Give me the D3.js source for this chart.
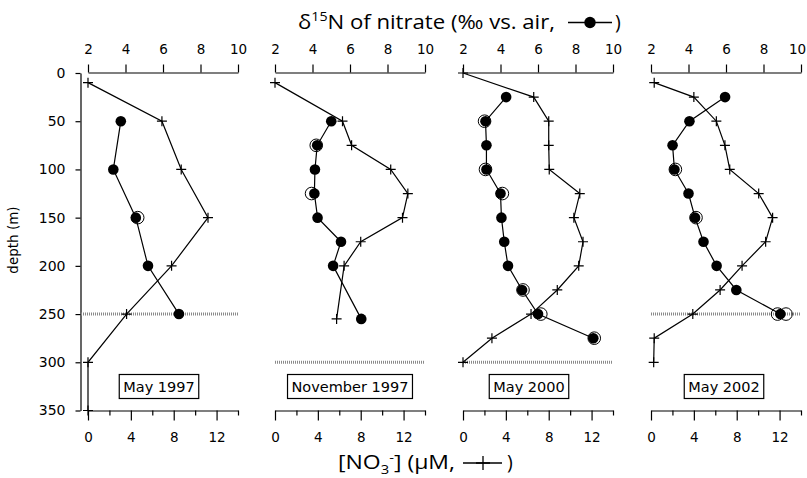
<!DOCTYPE html>
<html>
<head>
<meta charset="utf-8">
<script src="https://cdn.jsdelivr.net/npm/d3@7"></script>
<style>
    body { margin: 0; background: #fff; }
</style>
</head>
<body>
<div id="chart"></div>
<script>
// one entry per panel
const panelNames = ["May 1997", "November 1997", "May 2000", "May 2002"];

// [NO3-] profiles (uM)
const no3Depth = [
    [10, 50, 100, 150, 200, 250, 300, 350],
    [10, 50, 75, 100, 125, 150, 175, 200, 255],
    [0, 25, 50, 75, 100, 125, 150, 175, 200, 225, 250, 275, 300],
    [10, 25, 50, 75, 100, 125, 150, 175, 200, 225, 250, 275, 300]
];
const no3Conc = [
    [0, 6.9, 8.7, 11.2, 7.8, 3.6, 0, 0],
    [0, 6.3, 7.15, 10.8, 12.4, 11.9, 8.0, 6.45, 5.75],
    [0, 6.6, 8.0, 8.0, 8.05, 10.9, 10.35, 11.2, 10.8, 8.8, 6.35, 2.7, 0],
    [0.3, 4.0, 6.1, 6.9, 7.35, 10.05, 11.35, 10.7, 8.5, 6.45, 3.9, 0.3, 0.25]
];

// d15N of nitrate (permil vs. air), mean values
const d15nDepth = [
    [50, 100, 150, 200, 250],
    [50, 75, 100, 125, 150, 175, 200, 255],
    [25, 50, 75, 100, 125, 150, 175, 200, 225, 250, 275],
    [25, 50, 75, 100, 125, 150, 175, 200, 225, 250]
];
const d15nValue = [
    [3.75, 3.35, 4.55, 5.2, 6.85],
    [5.0, 4.25, 4.13, 4.1, 4.27, 5.52, 5.1, 6.6],
    [4.3, 3.2, 3.25, 3.25, 4.0, 4.05, 4.2, 4.4, 5.15, 6.0, 8.95],
    [5.95, 4.05, 3.15, 3.25, 4.0, 4.35, 4.8, 5.5, 6.55, 8.9]
];

// replicate measurements (open circles)
const repDepth = [
    [150],
    [75, 125],
    [50, 100, 125, 225, 250, 275],
    [100, 150, 250, 250]
];
const repValue = [
    [4.65],
    [4.2, 3.95],
    [3.15, 3.2, 4.1, 5.2, 6.15, 9.0],
    [3.3, 4.4, 8.75, 9.2]
];

// dotted reference depth in each panel (m)
const dottedDepth = [250, 300, 300, 250];

const depthTicks = [0, 50, 100, 150, 200, 250, 300, 350];
const d15nTicks = [2, 4, 6, 8, 10];
const no3Ticks = [0, 2, 4, 6, 8, 10, 12, 14];
const no3Labels = [0, 4, 8, 12];

const w = 807;
const h = 478;
const panelLeft = [88, 275, 463, 651];
const panelWidth = 150;
const boxCenter = [159, 350, 529, 724];
const tickFont = "DejaVu Sans";
const titleFont = "Open Sans";

const svg = d3.select("#chart")
    .append("svg")
    .attr("width", w)
    .attr("height", h);

const y = d3.scaleLinear()
    .domain([0, 350])
    .range([73, 410.5]);

// depth axis
const yAxis = svg.append("g")
    .attr("transform", "translate(80.5,0)")
    .call(d3.axisLeft(y).tickValues(depthTicks).tickSize(5).tickPadding(10).tickSizeOuter(0));
yAxis.selectAll("text").attr("font-family", tickFont).attr("font-size", "14px").attr("fill", "#000");
yAxis.selectAll("line, path").attr("stroke", "#000").attr("stroke-width", 1.2);

svg.append("text")
    .attr("transform", "translate(18,240) rotate(-90)")
    .attr("text-anchor", "middle")
    .attr("font-family", tickFont)
    .attr("font-size", "13.5px")
    .text("depth (m)");

const plusPath = s => `M${-s},0H${s}M0,${-s}V${s}`;

panelNames.forEach((name, p) => {
    const x0 = panelLeft[p];
    const xTop = d3.scaleLinear().domain([2, 10]).range([x0, x0 + panelWidth]);
    const xBot = d3.scaleLinear().domain([0, 14]).range([x0, x0 + panelWidth]);

    const g = svg.append("g");

    // top axis (d15N)
    const top = g.append("g")
        .attr("transform", "translate(0,72.5)")
        .call(d3.axisTop(xTop).tickValues(d15nTicks).tickSize(8).tickPadding(11).tickSizeOuter(0));
    top.selectAll("text").attr("font-family", tickFont).attr("font-size", "13.5px").attr("fill", "#000");
    top.selectAll("line, path").attr("stroke", "#000").attr("stroke-width", 1.2);
    // keep the last label inside the page
    if (p === panelNames.length - 1) {
        top.selectAll("text").filter(d => d === 10).attr("dx", -4);
    }

    // bottom axis (NO3)
    const bot = g.append("g")
        .attr("transform", "translate(0,410.5)")
        .call(d3.axisBottom(xBot).tickValues(no3Ticks).tickSize(10).tickPadding(12).tickSizeOuter(0));
    bot.selectAll("text")
        .attr("font-family", tickFont).attr("font-size", "13.5px").attr("fill", "#000")
        .text(d => no3Labels.includes(d) ? d : "");
    bot.selectAll("line").attr("y2", d => no3Labels.includes(d) ? 10 : 5);
    bot.selectAll("line, path").attr("stroke", "#000").attr("stroke-width", 1.2);

    // dotted depth line
    g.append("line")
        .attr("x1", p === 0 ? 81 : x0)
        .attr("x2", x0 + panelWidth)
        .attr("y1", y(dottedDepth[p]))
        .attr("y2", y(dottedDepth[p]))
        .attr("stroke", "#8a8a8a")
        .attr("stroke-width", 3)
        .attr("stroke-dasharray", "1,1");

    // nitrate profile
    const no3 = no3Depth[p].map((d, i) => ({ depth: d, v: no3Conc[p][i] }));
    g.append("path")
        .datum(no3)
        .attr("fill", "none")
        .attr("stroke", "#000")
        .attr("stroke-width", 1.2)
        .attr("d", d3.line().x(d => xBot(d.v)).y(d => y(d.depth)));
    g.selectAll(".plus")
        .data(no3)
        .enter()
        .append("path")
        .attr("class", "plus")
        .attr("transform", d => `translate(${xBot(d.v)},${y(d.depth)})`)
        .attr("d", plusPath(5))
        .attr("stroke", "#000")
        .attr("stroke-width", 1.2);

    // replicate open circles
    const reps = repDepth[p].map((d, i) => ({ depth: d, v: repValue[p][i] }));
    g.selectAll(".rep")
        .data(reps)
        .enter()
        .append("circle")
        .attr("class", "rep")
        .attr("cx", d => xTop(d.v))
        .attr("cy", d => y(d.depth))
        .attr("r", 6.3)
        .attr("fill", "none")
        .attr("stroke", "#000")
        .attr("stroke-width", 1);

    // d15N profile
    const d15 = d15nDepth[p].map((d, i) => ({ depth: d, v: d15nValue[p][i] }));
    g.append("path")
        .datum(d15)
        .attr("fill", "none")
        .attr("stroke", "#000")
        .attr("stroke-width", 1.2)
        .attr("d", d3.line().x(d => xTop(d.v)).y(d => y(d.depth)));
    g.selectAll(".dot")
        .data(d15)
        .enter()
        .append("circle")
        .attr("class", "dot")
        .attr("cx", d => xTop(d.v))
        .attr("cy", d => y(d.depth))
        .attr("r", 5.3)
        .attr("fill", "#000");

    // panel name box
    const boxG = g.append("g");
    const box = boxG.append("rect");
    const label = boxG.append("text")
        .attr("x", boxCenter[p])
        .attr("y", 391.5)
        .attr("text-anchor", "middle")
        .attr("font-family", tickFont)
        .attr("font-size", "14.5px")
        .text(name);
    const tw = label.node().getComputedTextLength();
    box.attr("x", boxCenter[p] - tw / 2 - 4)
        .attr("y", 374.5)
        .attr("width", tw + 8)
        .attr("height", 24)
        .attr("fill", "#fff")
        .attr("stroke", "#000")
        .attr("stroke-width", 1.2);
});

// top title with legend glyph
const t1Left = 298;
const t1Len = 257;
const t1 = svg.append("text")
    .attr("x", t1Left)
    .attr("y", 29)
    .attr("font-family", titleFont)
    .attr("font-size", "19.5px")
    .attr("textLength", t1Len)
    .attr("lengthAdjust", "spacingAndGlyphs");
t1.append("tspan").text("δ");
t1.append("tspan").attr("dy", -8).attr("font-size", "12.5px").text("15");
t1.append("tspan").attr("dy", 8).text("N of nitrate (‰ vs. air,");
const g1 = t1Left + t1Len;
svg.append("line")
    .attr("x1", g1 + 13).attr("x2", g1 + 57)
    .attr("y1", 22.5).attr("y2", 22.5)
    .attr("stroke", "#000").attr("stroke-width", 1.5);
svg.append("circle")
    .attr("cx", g1 + 35).attr("cy", 22.5).attr("r", 5.7)
    .attr("fill", "#000");
svg.append("text")
    .attr("x", g1 + 60)
    .attr("y", 29)
    .attr("font-family", titleFont)
    .attr("font-size", "19.5px")
    .text(")");

// bottom title with legend glyph
const t2Left = 338;
const t2Len = 117;
const t2 = svg.append("text")
    .attr("x", t2Left)
    .attr("y", 469)
    .attr("font-family", titleFont)
    .attr("font-size", "19.5px")
    .attr("textLength", t2Len)
    .attr("lengthAdjust", "spacingAndGlyphs");
t2.append("tspan").text("[NO");
t2.append("tspan").attr("dy", 5).attr("font-size", "12.5px").text("3");
t2.append("tspan").attr("dy", -12).attr("font-size", "12.5px").text("-");
t2.append("tspan").attr("dy", 7).text("] (μM,");
const g2 = t2Left + t2Len;
svg.append("line")
    .attr("x1", g2 + 8).attr("x2", g2 + 47)
    .attr("y1", 463).attr("y2", 463)
    .attr("stroke", "#000").attr("stroke-width", 1.3);
svg.append("path")
    .attr("transform", `translate(${g2 + 28},463)`)
    .attr("d", plusPath(7))
    .attr("stroke", "#000").attr("stroke-width", 1.3);
svg.append("text")
    .attr("x", g2 + 52)
    .attr("y", 469)
    .attr("font-family", titleFont)
    .attr("font-size", "19.5px")
    .text(")");
</script>
</body>
</html>
